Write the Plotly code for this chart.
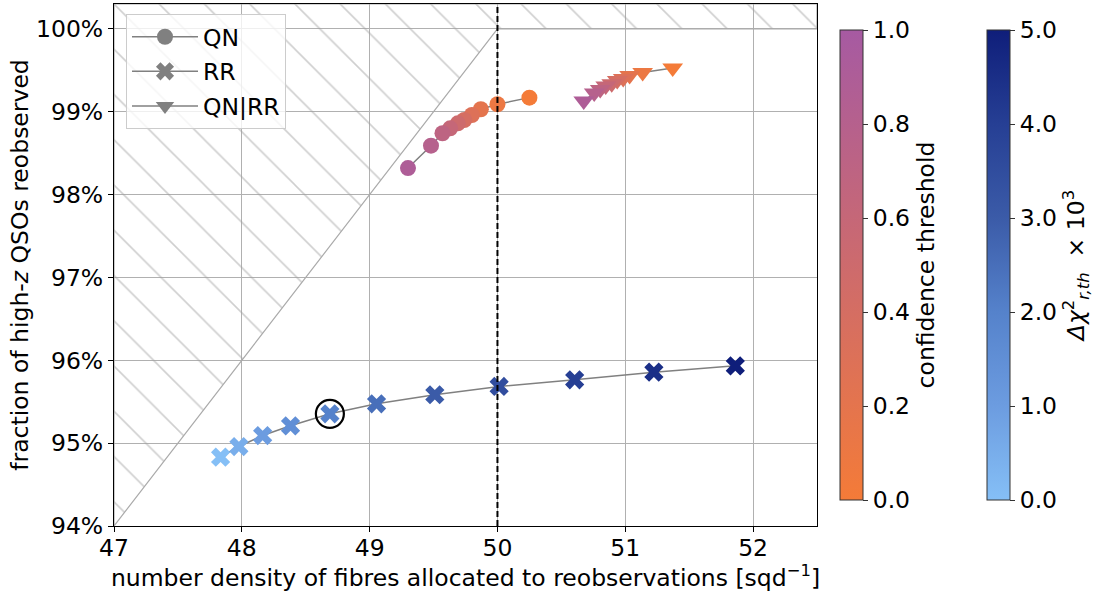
import plotly.graph_objects as go

# ---------------- data ----------------
qn_conf = [0.0, 0.1, 0.2, 0.3, 0.4, 0.5, 0.6, 0.7, 0.8, 0.9]
qn_x = [50.25, 50.00, 49.87, 49.80, 49.74, 49.69, 49.63, 49.57, 49.48, 49.30]
qn_y = [0.9917, 0.9909, 0.9903, 0.9896, 0.9890, 0.9886, 0.9880, 0.9874, 0.9859, 0.9832]

qnrr_conf = [0.0, 0.1, 0.2, 0.3, 0.4, 0.5, 0.6, 0.7, 0.8, 0.9]
qnrr_x = [51.371, 51.136, 51.034, 50.984, 50.937, 50.894, 50.847, 50.804, 50.757, 50.675]
qnrr_y = [0.99527, 0.99472, 0.99436, 0.99400, 0.99376, 0.99339, 0.99309, 0.99267, 0.99225, 0.99128]

rr_thresh = [0.0, 0.5, 1.0, 1.5, 2.0, 2.5, 3.0, 3.5, 4.0, 4.5, 5.0]
rr_x = [47.834, 47.977, 48.163, 48.381, 48.689, 49.054, 49.510, 50.013, 50.604, 51.224, 51.861]
rr_y = [0.94831, 0.94959, 0.95092, 0.95209, 0.95354, 0.95475, 0.95584, 0.95684, 0.95765, 0.95857, 0.95933]
rr_selected = 4           # index of the chosen threshold (2.0)

n_qso = 50.0              # total high-z QSO density: fraction <= x / n_qso is the limit
x_range = [47.0, 52.5]
x_ticks = [47, 48, 49, 50, 51, 52]
y_range = [0.94, 1.003]
y_ticks = [0.94, 0.95, 0.96, 0.97, 0.98, 0.99, 1.00]
cb1_ticks = [0.0, 0.2, 0.4, 0.6, 0.8, 1.0]
cb2_ticks = [0.0, 1.0, 2.0, 3.0, 4.0, 5.0]

cs_conf = [[0.0, "#f47b38"], [1.0, "#a65aa2"]]
cs_chi = [[0.0, "#85bff6"], [0.2, "#6c9ce0"], [0.4, "#5582cb"],
          [0.6, "#3b5ba8"], [0.8, "#263f94"], [1.0, "#0f1e7a"]]

FONT = "DejaVu Sans"
FS = 23.5
GRAY = "#808080"

# ---------------- geometry ----------------
W, H = 1098, 592
ML, MR, MT, MB = 114, 281, 4, 66
PW, PH = W - ML - MR, H - MT - MB
cb_thick = 23
cb1_left_px, cb2_left_px = 840, 987
cb_top_px, cb_bot_px = 30, 500
cb_len = (cb_bot_px - cb_top_px) / PH
cb_bottom = (H - MB - cb_bot_px) / PH
cb_y = cb_bottom + cb_len / 2
cb1_x = (cb1_left_px - ML) / PW
cb2_x = (cb2_left_px - ML) / PW

fig = go.Figure()

# hatched impossible region
hx = [x_range[0], n_qso, x_range[1], x_range[1], x_range[0], x_range[0]]
hy = [x_range[0] / n_qso, 1.0, 1.0, y_range[1], y_range[1], x_range[0] / n_qso]
fig.add_trace(go.Scatter(
    x=hx, y=hy, mode="lines", fill="toself",
    fillcolor="rgba(0,0,0,0)",
    fillpattern=dict(shape="\\", fgcolor="#a0a0a0", bgcolor="rgba(0,0,0,0)",
                     size=32, solidity=0.05),
    line=dict(color="#aaaaaa", width=1.2),
    hoverinfo="skip", showlegend=False))

# RR
fig.add_trace(go.Scatter(
    x=rr_x, y=rr_y, mode="lines+markers",
    line=dict(color=GRAY, width=1.5),
    marker=dict(symbol="x", size=17, color=rr_thresh, coloraxis="coloraxis2",
                line=dict(width=0)),
    showlegend=False))

# QN
fig.add_trace(go.Scatter(
    x=qn_x, y=qn_y, mode="lines+markers",
    line=dict(color=GRAY, width=1.5),
    marker=dict(symbol="circle", size=16, color=qn_conf, coloraxis="coloraxis",
                line=dict(width=0)),
    showlegend=False))

# QN|RR
fig.add_trace(go.Scatter(
    x=qnrr_x, y=qnrr_y, mode="lines+markers",
    line=dict(color=GRAY, width=1.5),
    marker=dict(symbol="triangle-down", size=18, color=qnrr_conf, coloraxis="coloraxis",
                line=dict(width=0)),
    showlegend=False))

# highlighted chosen RR threshold
fig.add_trace(go.Scatter(
    x=[rr_x[rr_selected]], y=[rr_y[rr_selected]], mode="markers",
    marker=dict(symbol="circle-open", size=28, color="black", line=dict(width=2.2)),
    showlegend=False, hoverinfo="skip"))

# legend entries
for name, sym in [("QN", "circle"), ("RR", "x"), ("QN|RR", "triangle-down")]:
    fig.add_trace(go.Scatter(
        x=[None], y=[None], mode="lines+markers", name=name, legendgroup=name,
        line=dict(color=GRAY, width=1.5),
        marker=dict(symbol=sym, size=17, color=GRAY)))

# dashed vertical line at n_qso
fig.add_shape(type="line", xref="x", yref="paper", x0=n_qso, x1=n_qso, y0=0, y1=1,
              line=dict(color="black", width=2, dash="6px,3px"))

# black marker line on chi colorbar at the selected threshold
sel_frac = rr_thresh[rr_selected] / cb2_ticks[-1]
fig.add_shape(type="line", xref="paper", yref="paper",
              x0=cb2_x, x1=cb2_x + cb_thick / PW,
              y0=cb_bottom + sel_frac * cb_len, y1=cb_bottom + sel_frac * cb_len,
              line=dict(color="black", width=2.5))

cbar_common = dict(thickness=cb_thick, thicknessmode="pixels", len=cb_len, lenmode="fraction",
                   y=cb_y, yanchor="middle", xanchor="left", xpad=0, ypad=0,
                   outlinewidth=1, outlinecolor="#333333",
                   ticks="outside", ticklen=5, tickcolor="#333333",
                   tickfont=dict(family=FONT, size=FS, color="black"),
                   tickformat=".1f")

fig.update_layout(
    width=W, height=H,
    margin=dict(l=ML, r=MR, t=MT, b=MB),
    paper_bgcolor="white", plot_bgcolor="white",
    font=dict(family=FONT, size=FS, color="black"),
    coloraxis=dict(colorscale=cs_conf, cmin=0, cmax=1,
                   colorbar=dict(x=cb1_x, tickvals=cb1_ticks,
                                 title=dict(text="confidence threshold", side="right",
                                            font=dict(family=FONT, size=FS)),
                                 **cbar_common)),
    coloraxis2=dict(colorscale=cs_chi, cmin=0, cmax=5,
                    colorbar=dict(x=cb2_x, tickvals=cb2_ticks,
                                  title=dict(text="<i>Δχ</i><sup>2</sup><sub><i>r,th</i></sub>  × 10<sup>3</sup>",
                                             side="right",
                                             font=dict(family=FONT, size=FS)),
                                  **cbar_common)),
    legend=dict(x=12 / PW, y=1 - 10 / PH, xanchor="left", yanchor="top",
                bgcolor="rgba(255,255,255,0.8)", bordercolor="#cccccc", borderwidth=1,
                font=dict(family=FONT, size=FS), tracegroupgap=1, itemwidth=66),
    showlegend=True,
)

fig.update_xaxes(range=x_range, tickvals=x_ticks,
                 showgrid=True, gridcolor="#b0b0b0", gridwidth=1,
                 showline=True, linecolor="black", linewidth=1.2, mirror=True,
                 ticks="outside", ticklen=5, tickcolor="black", zeroline=False,
                 tickfont=dict(size=FS), ticklabelstandoff=-4,
                 title=dict(text="number density of fibres allocated to reobservations [sqd<sup>−1</sup>]",
                            font=dict(size=FS), standoff=0))
fig.update_yaxes(range=y_range, tickvals=y_ticks, tickformat=".0%",
                 showgrid=True, gridcolor="#b0b0b0", gridwidth=1,
                 showline=True, linecolor="black", linewidth=1.2, mirror=True,
                 ticks="outside", ticklen=5, tickcolor="black", zeroline=False,
                 tickfont=dict(size=FS),
                 title=dict(text="fraction of high-<i>z</i> QSOs reobserved",
                            font=dict(size=FS), standoff=0))

fig.write_html("out.html")
